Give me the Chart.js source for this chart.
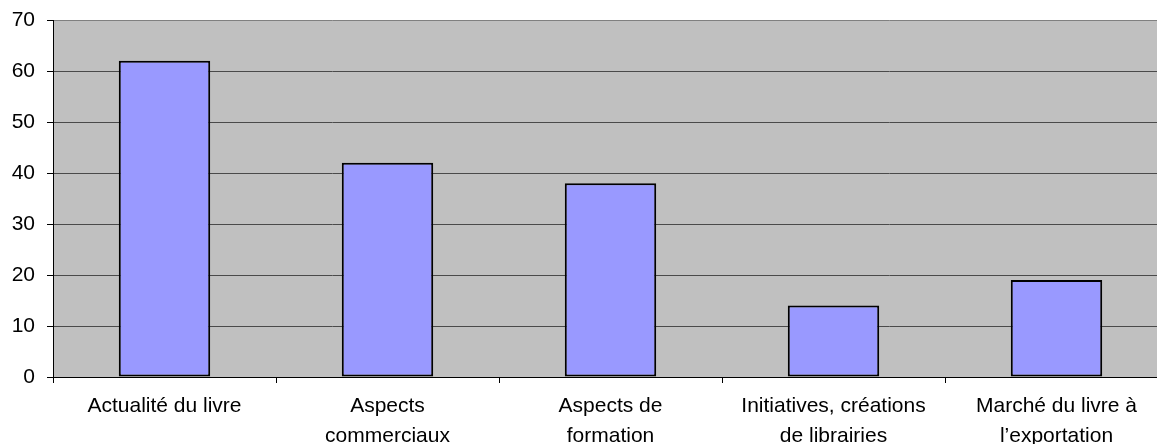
<!DOCTYPE html>
<html>
<head>
<meta charset="utf-8">
<script src="https://cdn.jsdelivr.net/npm/chart.js@4/dist/chart.umd.min.js"></script>
<style>
  html, body { margin: 0; padding: 0; background: #fff; overflow: hidden; }
  #wrap { width: 1170px; height: 444px; }
</style>
</head>
<body>
<div id="wrap"><canvas id="myChart" width="1170" height="444"></canvas></div>
<script>
// chart data
const categories = [
    ['Actualité du livre'],
    ['Aspects', 'commerciaux'],
    ['Aspects de', 'formation'],
    ['Initiatives, créations', 'de librairies'],
    ['Marché du livre à', 'l\u2019exportation']
];
const values = [62, 42, 38, 14, 19];
const yMin = 0;
const yMax = 70;
const yStep = 10;

const font = { family: "'Liberation Sans', Arial, sans-serif", size: 21, lineHeight: 1.4 };

// gray plot area
const plotBackground = {
    id: 'plotBackground',
    beforeDraw(chart) {
        const { ctx, chartArea } = chart;
        ctx.save();
        ctx.fillStyle = '#C0C0C0';
        ctx.fillRect(chartArea.left, chartArea.top, chartArea.right - chartArea.left, chartArea.bottom - chartArea.top);
        ctx.restore();
    }
};

const ctx = document.getElementById('myChart').getContext('2d');
new Chart(ctx, {
    type: 'bar',
    data: {
        labels: categories,
        datasets: [{
            data: values,
            backgroundColor: '#9999FF',
            borderColor: '#000000',
            borderWidth: 2,
            borderSkipped: false,
            categoryPercentage: 1.0,
            barPercentage: 0.41
        }]
    },
    options: {
        responsive: false,
        animation: false,
        layout: { padding: { top: 20, right: 2, bottom: 0, left: 0 } },
        plugins: {
            legend: { display: false },
            tooltip: { enabled: false }
        },
        scales: {
            x: {
                grid: {
                    offset: true,
                    drawOnChartArea: false,
                    tickLength: 6,
                    color: '#000000',
                    tickColor: '#000000'
                },
                border: { color: '#000000', width: 1 },
                ticks: { color: '#000000', font: font, padding: 9, maxRotation: 0, autoSkip: false },
                afterFit(scale) { scale.height = 67; }
            },
            y: {
                min: yMin,
                max: yMax,
                ticks: { stepSize: yStep, color: '#000000', font: { ...font, lineHeight: 1.2 }, padding: 12 },
                grid: {
                    tickLength: 6,
                    color: c => (c.tick && c.tick.value === yMax) ? '#808080' : '#4a4a4a',
                    tickColor: '#000000'
                },
                border: { color: '#000000', width: 1 },
                afterFit(scale) {
                    scale.width = 53;
                    scale.paddingTop = 0;
                    scale.paddingBottom = 0;
                }
            }
        }
    },
    plugins: [plotBackground]
});
</script>
</body>
</html>
